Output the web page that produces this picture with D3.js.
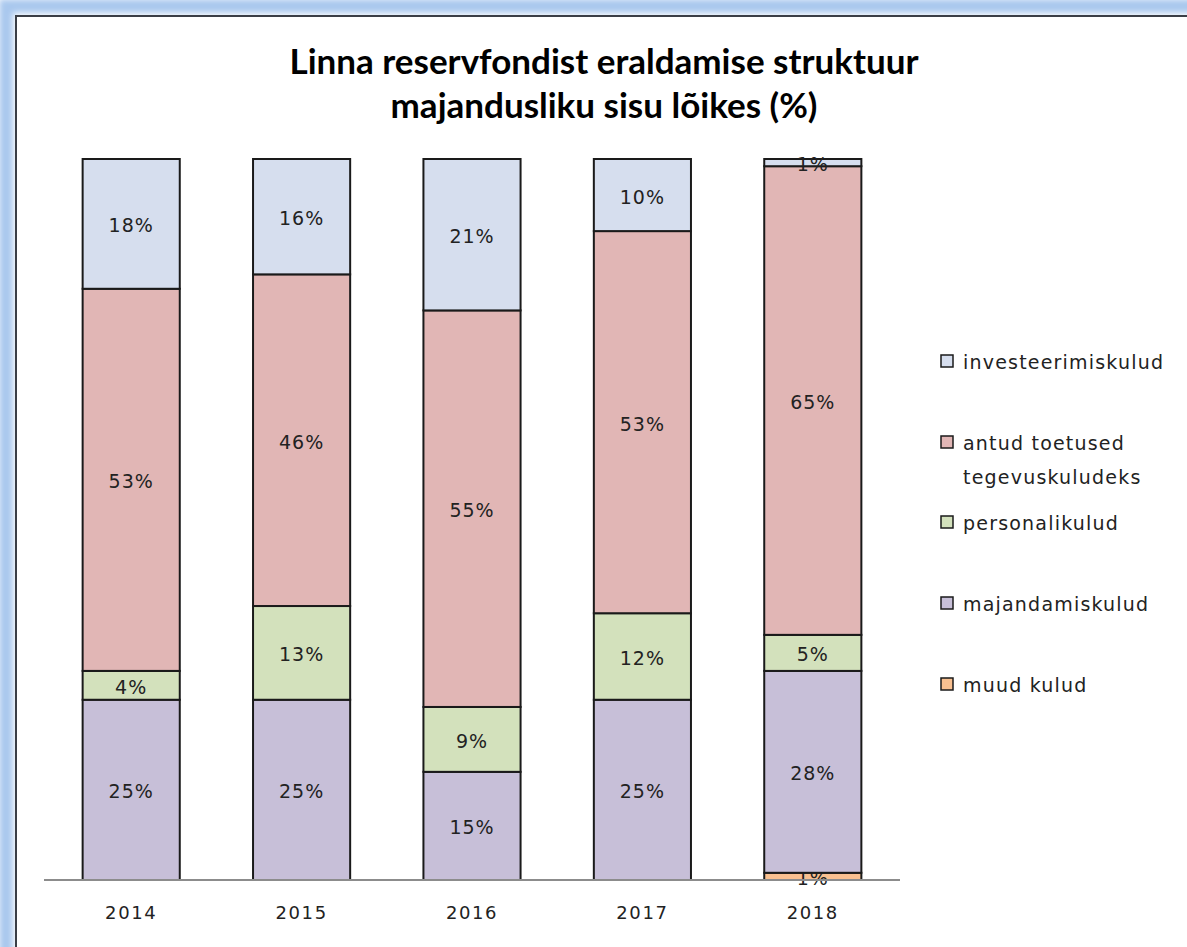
<!DOCTYPE html>
<html>
<head>
<meta charset="utf-8">
<script src="https://cdn.jsdelivr.net/npm/d3@7"></script>
<style>
  body { margin: 0; background: #fff; }
  svg { display: block; }
</style>
</head>
<body>
<svg id="chart" width="1187" height="947"></svg>
<script>
// data (percent)
var years = ["2014", "2015", "2016", "2017", "2018"]
var seriesNames = ["muud kulud", "majandamiskulud", "personalikulud", "antud toetused tegevuskuludeks", "investeerimiskulud"]
var muud = [0, 0, 0, 0, 1]
var majandamis = [25, 25, 15, 25, 28]
var personali = [4, 13, 9, 12, 5]
var toetused = [53, 46, 55, 53, 65]
var investeerimis = [18, 16, 21, 10, 1]
var colors = ["#f9c090", "#c7bfd8", "#d3e1bc", "#e1b6b5", "#d6deee"]
var legendLines = [["investeerimiskulud"], ["antud toetused", "tegevuskuludeks"], ["personalikulud"], ["majandamiskulud"], ["muud kulud"]]

var table = years.map(function(y, i){
    return {year: y, s0: muud[i], s1: majandamis[i], s2: personali[i], s3: toetused[i], s4: investeerimis[i]}
})
var keys = ["s0", "s1", "s2", "s3", "s4"]
var stacked = d3.stack().keys(keys)(table)

var svg = d3.select("#chart")

// window-like frame
var defs = svg.append("defs")
defs.append("filter").attr("id", "glow")
    .append("feGaussianBlur").attr("stdDeviation", 3)
svg.append("rect")
    .attr("x", 6).attr("y", 6).attr("width", 1300).attr("height", 1100)
    .attr("fill", "none").attr("stroke", "#a9c8ee").attr("stroke-width", 14)
    .attr("filter", "url(#glow)")
svg.append("rect")
    .attr("x", 16).attr("y", 16).attr("width", 1300).attr("height", 1100)
    .attr("fill", "#fff").attr("stroke", "#3b3f47").attr("stroke-width", 2)

var x = d3.scaleBand().domain(years).range([46, 898]).paddingInner(0.43).paddingOuter(0.215)
var y = d3.scaleLinear().domain([0, 100]).range([880, 159])

// title
var title = svg.append("text")
    .attr("text-anchor", "middle")
    .attr("font-family", "Lato, 'Open Sans', sans-serif")
    .attr("font-weight", "bold")
    .attr("font-size", 35)
    .attr("fill", "#000")
title.append("tspan").attr("x", 604).attr("y", 74).text("Linna reservfondist eraldamise struktuur")
title.append("tspan").attr("x", 604).attr("y", 118).text("majandusliku sisu lõikes (%)")

// bars
var layer = svg.selectAll("g.layer").data(stacked).enter().append("g")
    .attr("class", "layer")
    .attr("fill", function(d, i){ return colors[i] })

layer.selectAll("rect").data(function(d){ return d }).enter().append("rect")
    .filter(function(d){ return d[1] - d[0] > 0 })
    .attr("x", function(d){ return x(d.data.year) })
    .attr("width", x.bandwidth())
    .attr("y", function(d){ return y(d[1]) })
    .attr("height", function(d){ return y(d[0]) - y(d[1]) })
    .attr("stroke", "#1a1a1a")
    .attr("stroke-width", 2)

// axis
var xAxis = d3.axisBottom(x).tickSize(0).tickPadding(26)
var gx = svg.append("g")
    .attr("transform", "translate(0,880)")
    .call(xAxis)
gx.select(".domain").attr("d", "M44,0H900").attr("stroke", "#8c8c8c").attr("stroke-width", 2)
gx.selectAll("text")
    .attr("font-family", "'DejaVu Sans', sans-serif")
    .attr("font-size", 18)
    .attr("letter-spacing", 1.6)
    .attr("fill", "#222")

// data labels
layer.selectAll("text.lbl").data(function(d){ return d }).enter().append("text")
    .filter(function(d){ return d[1] - d[0] > 0 })
    .attr("class", "lbl")
    .attr("x", function(d){ return x(d.data.year) + x.bandwidth() / 2 })
    .attr("y", function(d){ return (y(d[0]) + y(d[1])) / 2 })
    .attr("dy", "0.45em")
    .attr("text-anchor", "middle")
    .attr("font-family", "'DejaVu Sans', sans-serif")
    .attr("font-size", 19)
    .attr("letter-spacing", 1)
    .attr("fill", "#222")
    .text(function(d){ return (d[1] - d[0]) + "%" })

// legend
var legendY = [361, 442, 522, 603, 684]
var legend = svg.selectAll("g.legend").data(legendLines).enter().append("g")
    .attr("class", "legend")
    .attr("transform", function(d, i){ return "translate(941," + legendY[i] + ")" })
legend.append("rect")
    .attr("x", 0).attr("y", -6).attr("width", 12).attr("height", 12)
    .attr("fill", function(d, i){ return colors[4 - i] })
    .attr("stroke", "#1a1a1a").attr("stroke-width", 1.5)
legend.selectAll("text").data(function(d){ return d }).enter().append("text")
    .attr("x", 22)
    .attr("y", function(d, j){ return j * 34 })
    .attr("dy", "0.4em")
    .attr("font-family", "'DejaVu Sans', sans-serif")
    .attr("font-size", 19)
    .attr("letter-spacing", 1.2)
    .attr("fill", "#222")
    .text(function(d){ return d })
</script>
</body>
</html>
